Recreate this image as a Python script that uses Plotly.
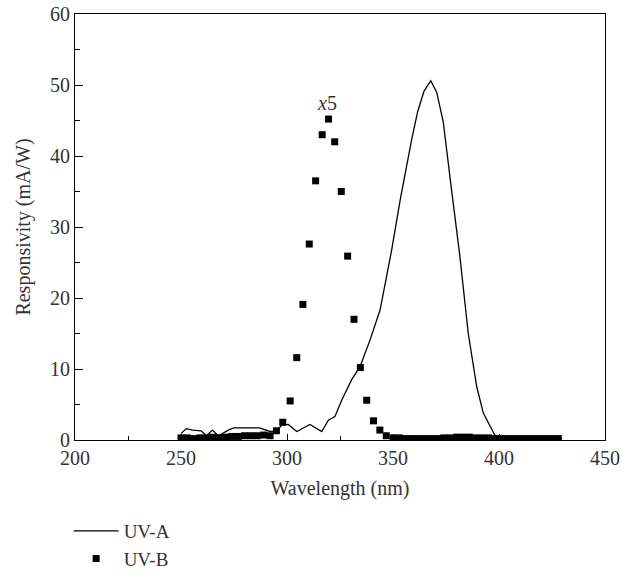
import plotly.graph_objects as go

# UV-A responsivity (solid line)
uva_wl = [250, 252.5, 255.5, 259.5, 262, 264.8, 267.6, 273, 275, 287, 292, 295, 297.5,
          300.6, 304.6, 310.8, 316.4, 319.5, 322.6, 325.8, 330.5, 334.4, 339.2, 343.9,
          349.4, 353.5, 358.8, 361.6, 364.6, 367.8, 370.6, 373.7, 377.5, 381.5, 385.5,
          389.5, 392.6, 395.8, 398, 401, 410, 420, 428]
uva_resp = [0.9, 1.6, 1.4, 1.3, 0.6, 1.4, 0.6, 1.5, 1.7, 1.7, 1.2, 1.2, 2.1,
            2.2, 1.2, 2.2, 1.2, 2.8, 3.3, 5.6, 8.5, 10.3, 14.1, 18.3,
            26.8, 34.0, 42.3, 46.2, 49.1, 50.6, 49.0, 44.8, 35.5, 26.0, 15.0,
            7.5, 3.8, 1.9, 0.7, 0.3, 0.2, 0.2, 0.2]

# UV-B responsivity (x5, squares)
uvb_wl = [250, 253, 256, 259, 262, 265, 268, 271, 274, 277, 280, 283, 286, 289, 292,
          295, 298, 301.5, 304.6, 307.5, 310.5, 313.5, 316.6, 319.6, 322.5, 325.6,
          328.6, 331.6, 334.6, 337.6, 340.8, 343.8, 346.8, 350, 353, 356, 359, 362,
          365, 368, 371, 374, 377, 380, 383, 386, 389, 392, 395, 398, 401, 404, 407,
          410, 413, 416, 419, 422, 425, 428]
uvb_resp = [0.3, 0.3, 0.2, 0.3, 0.3, 0.4, 0.3, 0.4, 0.5, 0.5, 0.6, 0.6, 0.6, 0.7, 0.6,
            1.3, 2.5, 5.5, 11.6, 19.1, 27.6, 36.5, 43.0, 45.2, 42.0, 35.0,
            25.9, 17.0, 10.2, 5.6, 2.7, 1.4, 0.6, 0.3, 0.3, 0.2, 0.2, 0.2,
            0.2, 0.2, 0.2, 0.3, 0.3, 0.4, 0.4, 0.4, 0.3, 0.3, 0.3, 0.2, 0.2, 0.2, 0.2,
            0.2, 0.2, 0.2, 0.2, 0.2, 0.2, 0.2]

x_ticks = [200, 250, 300, 350, 400, 450]
y_ticks = [0, 10, 20, 30, 40, 50, 60]

FONT = "Liberation Serif"
FS = 20

fig = go.Figure()
fig.add_trace(go.Scatter(x=uva_wl, y=uva_resp, mode="lines", name="UV-A",
                         line=dict(color="black", width=1.3)))
fig.add_trace(go.Scatter(x=uvb_wl, y=uvb_resp, mode="markers", name="UV-B",
                         marker=dict(symbol="square", size=7, color="black")))

fig.add_annotation(x=318.9, y=47.5, text="<i>x</i>5", showarrow=False,
                   font=dict(family=FONT, size=FS, color="#333"))

axis_common = dict(showgrid=False, zeroline=False, showline=True, linecolor="black",
                   linewidth=1, mirror=True, ticks="inside", tickcolor="black",
                   automargin=False,
                   tickfont=dict(family=FONT, size=FS, color="#333"))

fig.update_xaxes(range=[200, 450], tickvals=x_ticks, ticklen=6,
                 minor=dict(dtick=25, ticks="inside", ticklen=4, tickcolor="black"),
                 title=dict(text="Wavelength (nm)", font=dict(family=FONT, size=FS, color="#333"),
                            standoff=12),
                 **axis_common)
fig.update_yaxes(range=[0, 60], tickvals=y_ticks, ticklen=8,
                 minor=dict(dtick=5, ticks="inside", ticklen=5, tickcolor="black"),
                 title=dict(text="Responsivity (mA/W)", font=dict(family=FONT, size=FS, color="#333"),
                            standoff=14),
                 **axis_common)

fig.update_layout(
    width=629, height=578,
    margin=dict(l=75, r=24, t=14, b=138),
    plot_bgcolor="white", paper_bgcolor="white",
    showlegend=True,
    legend=dict(x=-0.012, y=0.0, xref="paper", yref="container",
                xanchor="left", yanchor="bottom",
                font=dict(family=FONT, size=19, color="#333"),
                bgcolor="rgba(0,0,0,0)", tracegroupgap=0, itemwidth=45),
    font=dict(family=FONT, color="#333"),
)

fig.write_html("out.html")
